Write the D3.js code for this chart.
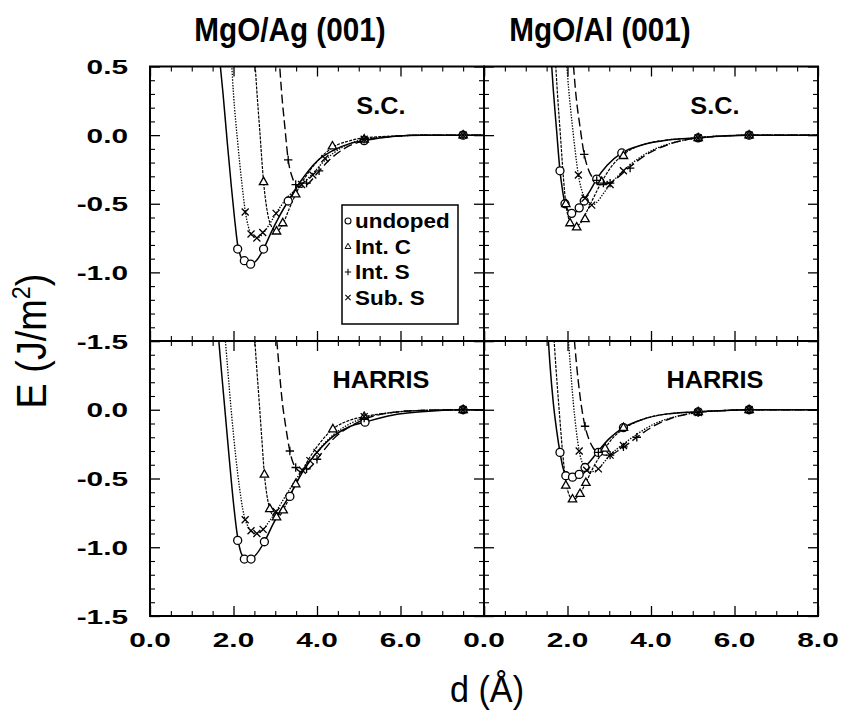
<!DOCTYPE html>
<html><head><meta charset="utf-8">
<script src="https://cdn.jsdelivr.net/npm/d3@7"></script>
<style>body{margin:0;background:#fff}</style>
</head><body>
<svg id="chart" width="846" height="721"></svg>
<script>
// ---------- DATA ----------
const columnTitles = ["MgO/Ag (001)", "MgO/Al (001)"];
const rowLabels = ["S.C.", "HARRIS"];
const seriesNames = ["undoped", "Int. C", "Int. S", "Sub. S"];
const xMajorTicks = [0, 2, 4, 6, 8];
const xMinorTicks = [0.5, 1, 1.5, 2.5, 3, 3.5, 4.5, 5, 5.5, 6.5, 7, 7.5];
const yMajorTicks = [0.5, 0, -0.5, -1, -1.5];
const yMinorTicks = [0.4,0.3,0.2,0.1,-0.1,-0.2,-0.3,-0.4,-0.6,-0.7,-0.8,-0.9,-1.1,-1.2,-1.3,-1.4];
const xTickLabelsLeft = ["0.0", "2.0", "4.0", "6.0"];
const xTickLabelsRight = ["0.0", "2.0", "4.0", "6.0", "8.0"];
const yTickLabelsTop = ["0.5", "0.0", "-0.5", "-1.0", "-1.5"];
const yTickLabelsBottom = ["", "0.0", "-0.5", "-1.0", "-1.5"];

// MgO/Ag (001), S.C.
const agScUndopedLine = [[1.66,0.58],[1.75,0.3],[1.85,-0.05],[1.95,-0.38],[2.03,-0.62],[2.10,-0.80],[2.18,-0.89],[2.26,-0.92],[2.41,-0.94],[2.56,-0.91],[2.72,-0.83],[2.9,-0.71],[3.1,-0.59],[3.31,-0.48],[3.6,-0.34],[4.0,-0.19],[4.4,-0.11],[4.8,-0.06],[5.13,-0.04],[5.8,-0.01],[6.5,0],[8,0]];
const agScUndopedPts = [[2.10,-0.83],[2.26,-0.915],[2.41,-0.94],[2.72,-0.83],[3.31,-0.48],[5.13,-0.04],[7.5,0]];
const agScIntCLine = [[2.50,0.6],[2.56,0.32],[2.63,0.03],[2.72,-0.34],[2.80,-0.54],[2.9,-0.66],[3.03,-0.70],[3.18,-0.65],[3.33,-0.54],[3.49,-0.43],[3.8,-0.27],[4.1,-0.16],[4.37,-0.09],[4.8,-0.04],[5.13,-0.02],[6,-0.005],[6.5,0],[8,0]];
const agScIntCPts = [[2.72,-0.34],[3.03,-0.70],[3.18,-0.64],[3.49,-0.43],[4.37,-0.08],[5.13,-0.03],[7.5,0]];
const agScIntSLine = [[3.09,0.58],[3.15,0.32],[3.23,0.06],[3.31,-0.18],[3.40,-0.30],[3.49,-0.36],[3.62,-0.38],[3.8,-0.35],[4.0,-0.28],[4.3,-0.18],[4.7,-0.09],[5.13,-0.04],[5.8,-0.01],[6.5,0],[8,0]];
const agScIntSPts = [[3.31,-0.18],[3.49,-0.36],[3.75,-0.35],[4.05,-0.26],[5.13,-0.03],[7.5,0]];
const agScSubSLine = [[1.95,0.55],[2.0,0.3],[2.1,-0.05],[2.2,-0.35],[2.28,-0.55],[2.35,-0.66],[2.42,-0.72],[2.56,-0.75],[2.70,-0.72],[2.86,-0.65],[3.02,-0.57],[3.3,-0.45],[3.6,-0.37],[3.9,-0.28],[4.2,-0.18],[4.6,-0.09],[5.13,-0.03],[5.8,-0.01],[6.5,0],[8,0]];
const agScSubSPts = [[2.28,-0.56],[2.42,-0.72],[2.56,-0.75],[2.70,-0.71],[3.02,-0.57],[3.63,-0.36],[3.9,-0.29],[4.19,-0.17],[5.13,-0.03],[7.5,0]];

// MgO/Al (001), S.C.
const alScUndopedLine = [[1.60,0.6],[1.66,0.33],[1.74,0.03],[1.82,-0.26],[1.88,-0.40],[1.94,-0.50],[2.02,-0.55],[2.10,-0.57],[2.2,-0.56],[2.28,-0.53],[2.40,-0.47],[2.55,-0.40],[2.70,-0.32],[2.95,-0.22],[3.3,-0.13],[3.8,-0.07],[4.4,-0.035],[5.13,-0.02],[5.8,-0.005],[6.35,0],[8,0]];
const alScUndopedPts = [[1.82,-0.26],[1.94,-0.50],[2.10,-0.57],[2.28,-0.53],[2.40,-0.48],[2.70,-0.32],[3.30,-0.13],[5.13,-0.02],[6.35,0]];
const alScIntCLine = [[1.70,0.6],[1.76,0.3],[1.83,0.0],[1.90,-0.30],[1.96,-0.50],[2.02,-0.60],[2.08,-0.65],[2.16,-0.67],[2.24,-0.66],[2.34,-0.63],[2.44,-0.57],[2.6,-0.47],[2.82,-0.34],[3.05,-0.23],[3.34,-0.14],[3.8,-0.07],[4.4,-0.035],[5.13,-0.02],[5.8,-0.005],[6.35,0],[8,0]];
const alScIntCPts = [[1.96,-0.50],[2.06,-0.64],[2.22,-0.67],[2.42,-0.61],[2.82,-0.34],[3.34,-0.15],[5.13,-0.02],[6.35,0]];
const alScIntSLine = [[2.12,0.6],[2.2,0.3],[2.3,0.06],[2.40,-0.14],[2.5,-0.25],[2.6,-0.31],[2.7,-0.34],[2.85,-0.36],[3.0,-0.35],[3.2,-0.31],[3.5,-0.23],[3.9,-0.14],[4.4,-0.07],[5.13,-0.02],[5.8,-0.005],[6.35,0],[8,0]];
const alScIntSPts = [[2.40,-0.14],[2.70,-0.33],[2.86,-0.35],[3.02,-0.35],[3.5,-0.24],[5.13,-0.02],[6.35,0]];
const alScSubSLine = [[1.96,0.6],[2.03,0.33],[2.12,0.06],[2.19,-0.13],[2.26,-0.29],[2.34,-0.40],[2.42,-0.46],[2.50,-0.50],[2.58,-0.51],[2.7,-0.49],[2.85,-0.43],[3.02,-0.36],[3.34,-0.26],[3.7,-0.17],[4.1,-0.10],[4.6,-0.05],[5.13,-0.02],[5.8,-0.005],[6.35,0],[8,0]];
const alScSubSPts = [[2.26,-0.29],[2.42,-0.46],[2.58,-0.51],[3.02,-0.36],[3.34,-0.26],[5.13,-0.02],[6.35,0]];

// MgO/Ag (001), HARRIS
const agHaUndopedLine = [[1.62,0.6],[1.70,0.32],[1.80,-0.02],[1.90,-0.36],[2.00,-0.68],[2.10,-0.93],[2.18,-1.04],[2.26,-1.08],[2.34,-1.09],[2.42,-1.085],[2.55,-1.05],[2.74,-0.96],[2.95,-0.83],[3.15,-0.72],[3.35,-0.62],[3.7,-0.43],[4.0,-0.31],[4.4,-0.19],[4.8,-0.12],[5.15,-0.09],[5.8,-0.04],[6.5,-0.015],[7.5,0],[8,0]];
const agHaUndopedPts = [[2.10,-0.95],[2.26,-1.086],[2.42,-1.086],[2.74,-0.96],[3.35,-0.63],[5.15,-0.09],[7.5,0]];
const agHaIntCLine = [[2.49,0.6],[2.55,0.33],[2.62,0.04],[2.68,-0.22],[2.74,-0.47],[2.80,-0.62],[2.87,-0.72],[2.95,-0.77],[3.03,-0.78],[3.11,-0.77],[3.19,-0.73],[3.34,-0.64],[3.49,-0.54],[3.8,-0.36],[4.1,-0.23],[4.38,-0.14],[4.75,-0.08],[5.13,-0.05],[5.8,-0.02],[6.5,-0.005],[7.5,0],[8,0]];
const agHaIntCPts = [[2.74,-0.47],[2.87,-0.72],[3.03,-0.78],[3.19,-0.73],[3.49,-0.54],[4.38,-0.14],[5.13,-0.05],[7.5,0]];
const agHaIntSLine = [[3.01,0.6],[3.08,0.35],[3.16,0.08],[3.25,-0.12],[3.35,-0.30],[3.42,-0.38],[3.49,-0.42],[3.6,-0.45],[3.75,-0.44],[3.9,-0.40],[4.1,-0.32],[4.4,-0.21],[4.8,-0.12],[5.13,-0.07],[5.8,-0.02],[6.5,-0.005],[7.5,0],[8,0]];
const agHaIntSPts = [[3.35,-0.30],[3.49,-0.42],[3.75,-0.43],[4.0,-0.36],[5.13,-0.06],[7.5,0]];
const agHaSubSLine = [[1.78,0.6],[1.86,0.3],[1.95,-0.02],[2.05,-0.33],[2.15,-0.58],[2.22,-0.72],[2.28,-0.80],[2.35,-0.85],[2.42,-0.88],[2.56,-0.90],[2.71,-0.87],[2.86,-0.81],[3.02,-0.74],[3.3,-0.60],[3.6,-0.46],[3.83,-0.37],[4.1,-0.27],[4.4,-0.18],[4.8,-0.10],[5.13,-0.06],[5.8,-0.02],[6.5,-0.005],[7.5,0],[8,0]];
const agHaSubSPts = [[2.28,-0.80],[2.42,-0.88],[2.56,-0.90],[2.71,-0.87],[3.02,-0.74],[3.65,-0.44],[3.83,-0.37],[4.0,-0.31],[5.13,-0.05],[7.5,0]];

// MgO/Al (001), HARRIS
const alHaUndopedLine = [[1.52,0.6],[1.58,0.33],[1.66,0.05],[1.74,-0.15],[1.82,-0.31],[1.89,-0.42],[1.96,-0.48],[2.04,-0.50],[2.12,-0.495],[2.2,-0.485],[2.28,-0.47],[2.42,-0.42],[2.58,-0.36],[2.74,-0.30],[3.0,-0.21],[3.34,-0.13],[3.8,-0.07],[4.4,-0.03],[5.13,-0.015],[5.8,-0.005],[6.35,0],[8,0]];
const alHaUndopedPts = [[1.82,-0.31],[1.96,-0.48],[2.12,-0.49],[2.28,-0.47],[2.42,-0.42],[2.74,-0.31],[3.34,-0.13],[5.13,-0.015],[6.35,0]];
const alHaIntCLine = [[1.66,0.6],[1.72,0.32],[1.80,0.0],[1.88,-0.30],[1.96,-0.52],[2.04,-0.62],[2.12,-0.65],[2.22,-0.64],[2.30,-0.61],[2.44,-0.53],[2.6,-0.43],[2.75,-0.35],[2.90,-0.28],[3.1,-0.20],[3.34,-0.14],[3.8,-0.07],[4.4,-0.03],[5.13,-0.015],[5.8,-0.005],[6.35,0],[8,0]];
const alHaIntCPts = [[1.96,-0.55],[2.12,-0.65],[2.30,-0.61],[2.44,-0.53],[2.90,-0.28],[3.34,-0.13],[5.13,-0.015],[6.35,0]];
const alHaIntSLine = [[2.14,0.6],[2.21,0.35],[2.3,0.1],[2.42,-0.12],[2.52,-0.22],[2.62,-0.28],[2.74,-0.31],[2.88,-0.33],[3.02,-0.33],[3.2,-0.30],[3.4,-0.26],[3.66,-0.20],[4.0,-0.13],[4.5,-0.06],[5.13,-0.02],[5.8,-0.005],[6.35,0],[8,0]];
const alHaIntSPts = [[2.42,-0.12],[2.74,-0.31],[3.02,-0.33],[3.34,-0.27],[3.66,-0.20],[5.13,-0.02],[6.35,0]];
const alHaSubSLine = [[2.0,0.6],[2.06,0.35],[2.14,0.05],[2.21,-0.15],[2.28,-0.30],[2.36,-0.39],[2.46,-0.44],[2.6,-0.45],[2.74,-0.43],[2.88,-0.38],[3.02,-0.33],[3.34,-0.25],[3.7,-0.17],[4.1,-0.10],[4.6,-0.05],[5.13,-0.02],[5.8,-0.005],[6.35,0],[8,0]];
const alHaSubSPts = [[2.28,-0.30],[2.46,-0.44],[2.74,-0.43],[3.02,-0.33],[3.34,-0.26],[5.13,-0.02],[6.35,0]];

// ---------- LAYOUT / STYLE ----------
const FONT = "'Liberation Sans', Arial, Helvetica, sans-serif";
const colX = [[150, 484], [484, 818]];
const rowY = [[66.5, 341], [341, 616]];
const titleCenters = [290, 600];

const panels = [
  {row:0, col:0, series:[[agScUndopedLine,agScUndopedPts],[agScIntCLine,agScIntCPts],[agScIntSLine,agScIntSPts],[agScSubSLine,agScSubSPts]]},
  {row:0, col:1, series:[[alScUndopedLine,alScUndopedPts],[alScIntCLine,alScIntCPts],[alScIntSLine,alScIntSPts],[alScSubSLine,alScSubSPts]]},
  {row:1, col:0, series:[[agHaUndopedLine,agHaUndopedPts],[agHaIntCLine,agHaIntCPts],[agHaIntSLine,agHaIntSPts],[agHaSubSLine,agHaSubSPts]]},
  {row:1, col:1, series:[[alHaUndopedLine,alHaUndopedPts],[alHaIntCLine,alHaIntCPts],[alHaIntSLine,alHaIntSPts],[alHaSubSLine,alHaSubSPts]]},
];

const lineStyles = [
  {dash: null,      width: 1.5},
  {dash: "3,1.2",   width: 1.2},
  {dash: "9,4",     width: 1.4},
  {dash: "1.4,1.4", width: 1.3},
];
const markerPaths = [
  "M4,0A4,4 0 1,1 -4,0A4,4 0 1,1 4,0Z",
  "M0,-4.6L4.2,2.8L-4.2,2.8Z",
  "M-4.2,0H4.2M0,-4.2V4.2",
  "M-3.5,-3.5L3.5,3.5M-3.5,3.5L3.5,-3.5",
];
const markerFill = ["#fff", "#fff", "none", "none"];

const svg = d3.select("#chart");
svg.append("rect").attr("width", 846).attr("height", 721).attr("fill", "#fff");

function stext(g, x, y, str, o) {
  const t = g.append("text")
    .attr("transform", `translate(${x},${y})${o.rot ? ` rotate(${o.rot})` : ""} scale(${o.sx || 1},1)`)
    .attr("text-anchor", o.anchor || "middle")
    .attr("font-family", FONT)
    .attr("font-size", o.size)
    .attr("font-weight", o.weight || "bold")
    .attr("fill", "#000");
  return t.text(str);
}

const defs = svg.append("defs");

panels.forEach((p, i) => {
  const [x0, x1] = colX[p.col];
  const [y0, y1] = rowY[p.row];
  const x = d3.scaleLinear().domain([0, 8]).range([x0, x1]);
  const y = d3.scaleLinear().domain([-1.5, 0.5]).range([y1, y0]);
  const g = svg.append("g");

  defs.append("clipPath").attr("id", "clip" + i)
    .append("rect").attr("x", x0).attr("y", y0).attr("width", x1 - x0).attr("height", y1 - y0);

  // ticks (inward on all four sides)
  const axes = [
    [d3.axisBottom(x), `translate(0,${y1})`, xMajorTicks, xMinorTicks],
    [d3.axisTop(x), `translate(0,${y0})`, xMajorTicks, xMinorTicks],
    [d3.axisLeft(y), `translate(${x0},0)`, yMajorTicks, yMinorTicks],
    [d3.axisRight(y), `translate(${x1},0)`, yMajorTicks, yMinorTicks],
  ];
  axes.forEach(([ax, tr, maj, min]) => {
    const a1 = g.append("g").attr("transform", tr)
      .call(ax.tickValues(maj).tickSize(-10).tickFormat(""));
    a1.select(".domain").remove();
    a1.selectAll("line").attr("stroke", "#000").attr("stroke-width", 1.3);
    const a2 = g.append("g").attr("transform", tr)
      .call(ax.tickValues(min).tickSize(-5).tickFormat(""));
    a2.select(".domain").remove();
    a2.selectAll("line").attr("stroke", "#000").attr("stroke-width", 1.1);
  });

  const plot = g.append("g").attr("clip-path", `url(#clip${i})`);
  const line = d3.line().x(d => x(d[0])).y(d => y(d[1])).curve(d3.curveMonotoneX);
  p.series.forEach(([ln], k) => {
    plot.append("path").datum(ln).attr("d", line)
      .attr("fill", "none").attr("stroke", "#000")
      .attr("stroke-width", lineStyles[k].width)
      .attr("stroke-dasharray", lineStyles[k].dash);
  });
  p.series.forEach(([, pts], k) => {
    plot.selectAll(null).data(pts).enter().append("path")
      .attr("d", markerPaths[k])
      .attr("transform", d => `translate(${x(d[0])},${y(d[1])})`)
      .attr("fill", markerFill[k]).attr("stroke", "#000").attr("stroke-width", 1.3);
  });

  // frame
  g.append("rect").attr("x", x0).attr("y", y0).attr("width", x1 - x0).attr("height", y1 - y0)
    .attr("fill", "none").attr("stroke", "#000").attr("stroke-width", 2);

  // method label
  stext(g, x(5.53), y0 + 47, rowLabels[p.row], {size: 23, sx: 1.1});

  // tick labels
  if (p.col === 0) {
    const labs = p.row === 0 ? yTickLabelsTop : yTickLabelsBottom;
    yMajorTicks.forEach((v, j) => {
      if (labs[j]) stext(g, 128, y(v) + 7.5, labs[j], {size: 21, sx: 1.42, anchor: "end"});
    });
  }
  if (p.row === 1) {
    const labs = p.col === 0 ? xTickLabelsLeft : xTickLabelsRight;
    labs.forEach((s, j) => stext(g, x(xMajorTicks[j]), 647, s, {size: 21, sx: 1.42}));
  }
  if (p.row === 0) {
    stext(g, titleCenters[p.col], 41, columnTitles[p.col], {size: 33, sx: 0.9});
  }

  // legend
  if (i === 0) {
    const lg = g.append("g");
    lg.append("rect").attr("x", 342).attr("y", 205).attr("width", 116).attr("height", 119)
      .attr("fill", "#fff").attr("stroke", "#000").attr("stroke-width", 1.5);
    const legScale = [0.75, 0.7, 0.75, 0.75];
    seriesNames.forEach((nm, k) => {
      const cy = 221 + k * 25.5;
      lg.append("path").attr("d", markerPaths[k])
        .attr("transform", `translate(348,${cy}) scale(${legScale[k]})`)
        .attr("fill", "none").attr("stroke", "#000").attr("stroke-width", 1.4);
      stext(lg, 355, cy + 7, nm, {size: 19.5, sx: 1.15, anchor: "start"});
    });
  }
});

// axis titles
stext(svg, 487, 702, "d (Å)", {size: 36, sx: 0.95, weight: "normal"});
const yl = svg.append("text")
  .attr("transform", "translate(46,341) rotate(-90) scale(0.9,1)")
  .attr("text-anchor", "middle").attr("font-family", FONT)
  .attr("font-size", 42).attr("fill", "#000");
yl.append("tspan").text("E (J/m");
yl.append("tspan").attr("font-size", 26).attr("dy", -16).text("2");
yl.append("tspan").attr("dy", 16).text(")");
</script>
</body></html>
